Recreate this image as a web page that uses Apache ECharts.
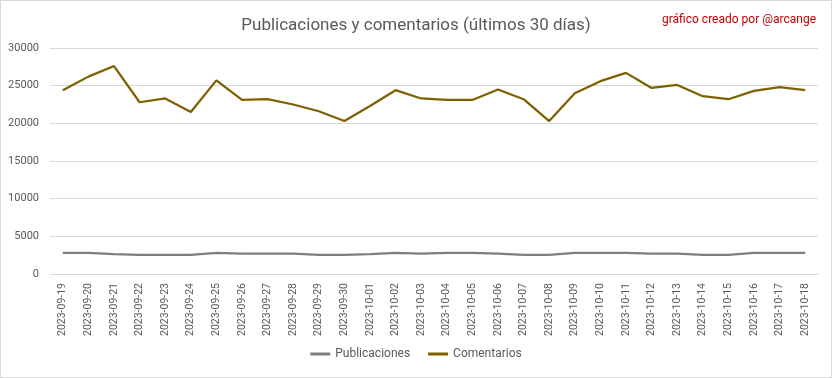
<!DOCTYPE html>
<html>
<head>
<meta charset="utf-8">
<script src="https://cdn.jsdelivr.net/npm/echarts@6/dist/echarts.min.js"></script>
<style>
  html, body { margin: 0; padding: 0; background: #fff; }
  #chart { width: 830px; height: 376px; border: 1px solid #d9d9d9; }
</style>
</head>
<body>
<div id="chart"></div>
<script>
const dates = [
  '2023-09-19', '2023-09-20', '2023-09-21', '2023-09-22', '2023-09-23', '2023-09-24',
  '2023-09-25', '2023-09-26', '2023-09-27', '2023-09-28', '2023-09-29', '2023-09-30',
  '2023-10-01', '2023-10-02', '2023-10-03', '2023-10-04', '2023-10-05', '2023-10-06',
  '2023-10-07', '2023-10-08', '2023-10-09', '2023-10-10', '2023-10-11', '2023-10-12',
  '2023-10-13', '2023-10-14', '2023-10-15', '2023-10-16', '2023-10-17', '2023-10-18',
];
const publicaciones = [
  2800, 2800, 2650, 2550, 2550, 2550, 2800, 2700, 2700, 2700, 2550, 2550, 2650, 2800, 2700,
  2800, 2800, 2700, 2550, 2550, 2800, 2800, 2800, 2700, 2700, 2550, 2550, 2800, 2800, 2800,
];
const comentarios = [
  24400, 26200, 27600, 22800, 23300, 21500, 25700, 23100, 23200, 22500, 21600, 20300, 22300, 24400, 23300,
  23100, 23100, 24500, 23200, 20300, 24000, 25600, 26700, 24700, 25100, 23600, 23200, 24300, 24800, 24400,
];
const yTicks = { min: 0, max: 30000, interval: 5000 };

const font = 'Roboto, sans-serif';
const gray = '#595959';

const chart = echarts.init(document.getElementById('chart'));
chart.setOption({
  animation: false,
  textStyle: { fontFamily: font },
  title: [
    {
      text: 'Publicaciones y comentarios (últimos 30 días)',
      left: 'center',
      top: 11,
      textStyle: { color: gray, fontSize: 17, fontWeight: 'normal', fontFamily: font },
    },
    {
      text: 'gráfico creado por @arcange',
      right: 10,
      top: 8,
      textStyle: { color: '#c00000', fontSize: 12, fontWeight: 'normal', fontFamily: font },
    },
  ],
  legend: {
    bottom: 12,
    left: 'center',
    icon: 'rect',
    itemWidth: 20,
    itemHeight: 3,
    itemGap: 18,
    textStyle: { color: gray, fontSize: 12, fontFamily: font },
    data: ['Publicaciones', 'Comentarios'],
  },
  grid: { left: 49, right: 13, top: 47, bottom: 103 },
  xAxis: {
    type: 'category',
    data: dates,
    axisLine: { lineStyle: { color: '#d9d9d9' } },
    axisTick: { show: false },
    axisLabel: { rotate: 90, color: gray, fontSize: 10.5, margin: 9, interval: 0 },
  },
  yAxis: {
    type: 'value',
    ...yTicks,
    axisLine: { show: false },
    axisTick: { show: false },
    axisLabel: { color: gray, fontSize: 11, margin: 11, formatter: (v) => String(v) },
    splitLine: { lineStyle: { color: '#d9d9d9' } },
  },
  series: [
    {
      name: 'Publicaciones',
      type: 'line',
      data: publicaciones,
      showSymbol: false,
      itemStyle: { color: '#7f7f7f' },
      lineStyle: { color: '#7f7f7f', width: 2.25 },
    },
    {
      name: 'Comentarios',
      type: 'line',
      data: comentarios,
      showSymbol: false,
      itemStyle: { color: '#7f6000' },
      lineStyle: { color: '#7f6000', width: 2.25 },
    },
  ],
});
</script>
</body>
</html>
